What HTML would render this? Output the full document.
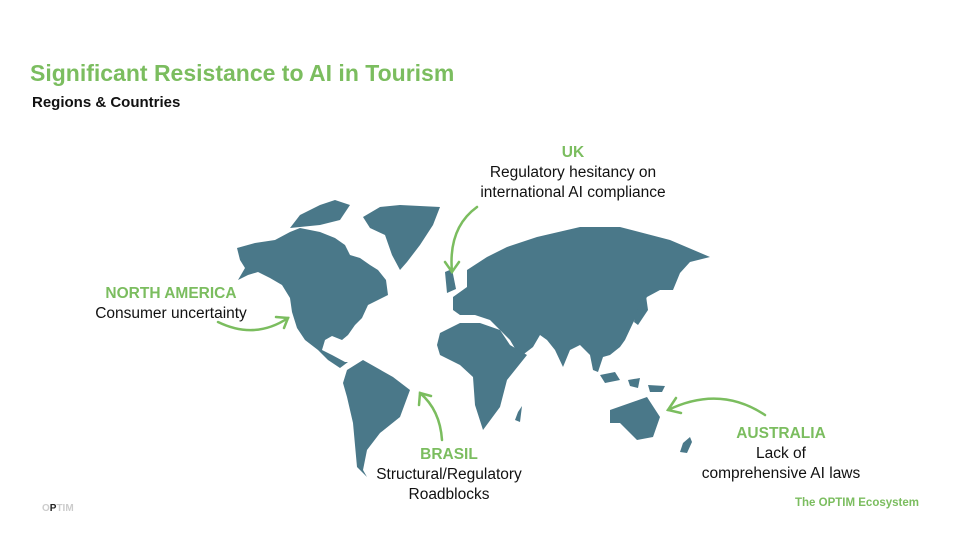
<!DOCTYPE html>
<html><head><meta charset="utf-8"><style>
body{margin:0;width:969px;height:550px;background:#fff;position:relative;overflow:hidden;font-family:"Liberation Sans",sans-serif;}
.t{position:absolute;white-space:nowrap;}
.g{color:#7bbd5f;font-weight:bold;}
.c{text-align:center;transform:translateX(-50%);font-size:15.5px;line-height:20px;color:#111;}
</style></head><body>
<div class="t g" style="left:30px;top:60px;font-size:23px;">Significant Resistance to AI in Tourism</div>
<div class="t" style="left:32px;top:94px;font-size:15px;font-weight:bold;color:#111;">Regions &amp; Countries</div>
<svg width="969" height="550" style="position:absolute;left:0;top:0">
<g fill="#4a7889">
<polygon points="237,248 255,243 275,240 290,232 300,228 320,232 335,238 345,245 350,255 360,258 370,265 378,270 386,280 388,295 378,300 368,305 362,318 355,325 348,335 342,340 332,336 325,340 322,350 332,355 345,362 348,362 340,368 328,360 318,350 305,340 297,328 292,312 290,298 282,285 270,278 258,272 248,275 238,280 245,268 240,260"/>
<polygon points="290,228 300,215 320,205 335,200 350,205 340,220 320,225"/>
<polygon points="363,217 380,207 400,205 440,207 433,225 420,245 407,262 400,270 392,255 385,235 370,228"/>
<polygon points="347,370 363,360 393,377 410,390 400,417 380,433 367,450 363,470 367,477 357,467 353,423 347,397 343,383"/>
<polygon points="453,297 467,287 467,270 487,257 507,247 537,237 580,227 620,227 670,240 710,257 690,262 680,273 673,290 660,290 647,297 640,310 633,323 625,340 620,347 610,355 603,357 598,372 593,370 590,355 580,345 570,350 563,367 555,350 547,340 540,335 533,347 520,357 510,340 500,330 490,320 475,315 460,315 453,310"/>
<polygon points="440,333 460,323 480,323 500,330 510,345 527,355 515,370 507,380 500,407 483,430 475,405 473,377 460,365 440,355 437,345"/>
<polygon points="445,272 452,269 456,289 447,293"/>
<polygon points="640,300 646,296 648,310 638,325 634,322"/>
<polygon points="600,375 615,372 620,380 605,383"/>
<polygon points="628,380 640,378 638,388 630,386"/>
<polygon points="648,385 665,386 662,392 650,392"/>
<polygon points="610,410 647,397 660,417 653,437 637,440 620,423 610,423"/>
<polygon points="683,443 690,437 692,442 687,453 680,452"/>
<polygon points="518,412 522,406 520,422 515,420"/>
</g>
<g fill="none" stroke="#7bbd5f" stroke-width="2.5" stroke-linecap="round">
<path d="M477,207 Q448,228 452,272"/><path d="M445,262 L452,272 L459,262"/>
<path d="M218,322 Q255,340 288,318"/><path d="M276,317 L288,318 L284,328"/>
<path d="M442,440 Q440,410 420,393"/><path d="M419,405 L420,393 L431,396"/>
<path d="M765,415 Q720,385 668,410"/><path d="M676,398 L668,410 L681,413"/>
</g>
</svg>
<div class="t c" style="left:573px;top:143px;"><span class="g">UK</span><br>Regulatory hesitancy on<br>international AI compliance</div>
<div class="t c" style="left:171px;top:284px;"><span class="g">NORTH AMERICA</span><br>Consumer uncertainty</div>
<div class="t c" style="left:449px;top:445px;"><span class="g">BRASIL</span><br>Structural/Regulatory<br>Roadblocks</div>
<div class="t c" style="left:781px;top:424px;"><span class="g">AUSTRALIA</span><br>Lack of<br>comprehensive AI laws</div>
<div class="t" style="left:42px;top:503px;font-size:10px;font-weight:bold;color:#ccc;">O<span style="color:#222">P</span>TIM</div>
<div class="t g" style="left:795px;top:497px;font-size:11.5px;">The OPTIM Ecosystem</div>
</body></html>
